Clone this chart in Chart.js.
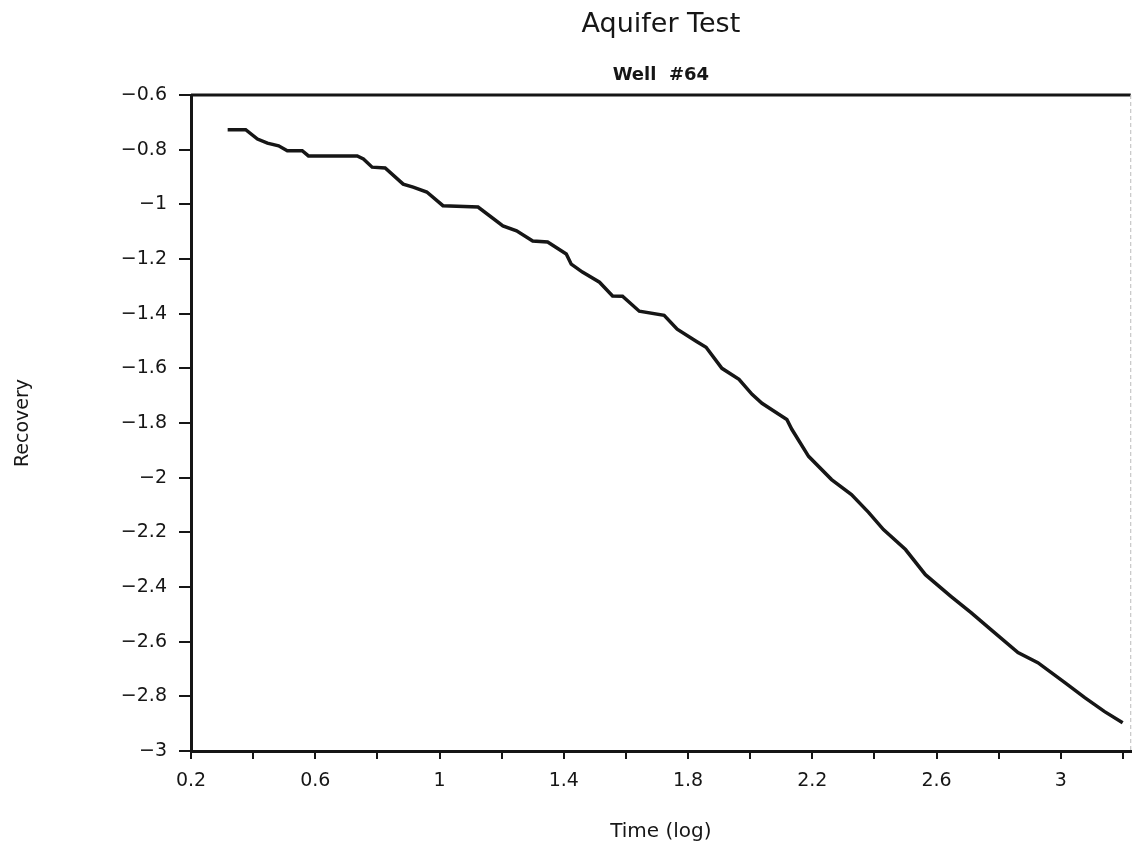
<!DOCTYPE html>
<html>
<head>
<meta charset="utf-8">
<title>Aquifer Test</title>
<script src="https://cdn.jsdelivr.net/npm/chart.js@4/dist/chart.umd.min.js"></script>
<style>
  html, body { margin: 0; padding: 0; background: #fff; }
  #wrap { width: 1134px; height: 848px; position: relative; }
</style>
</head>
<body>
<div id="wrap"><canvas id="aquifer-chart"></canvas></div>
<script>
// Time (log) vs recovery
const timeLog = [0.318, 0.376, 0.414, 0.446, 0.482, 0.510, 0.558, 0.578, 0.735, 0.755,
  0.783, 0.825, 0.883, 0.915, 0.959, 1.011, 1.124, 1.204, 1.248, 1.300,
  1.348, 1.408, 1.424, 1.460, 1.515, 1.557, 1.589, 1.643, 1.723, 1.765,
  1.826, 1.858, 1.909, 1.964, 2.006, 2.038, 2.092, 2.118, 2.134, 2.188,
  2.262, 2.326, 2.381, 2.429, 2.500, 2.564, 2.647, 2.711, 2.775, 2.862,
  2.926, 3.013, 3.077, 3.141, 3.199];
const recovery = [-0.727, -0.727, -0.761, -0.776, -0.786, -0.804, -0.804, -0.823, -0.823, -0.834,
  -0.864, -0.867, -0.926, -0.937, -0.955, -1.005, -1.010, -1.079, -1.097, -1.134,
  -1.138, -1.182, -1.219, -1.248, -1.285, -1.335, -1.336, -1.391, -1.406, -1.457,
  -1.501, -1.523, -1.600, -1.640, -1.695, -1.728, -1.768, -1.787, -1.823, -1.922,
  -2.007, -2.062, -2.127, -2.190, -2.263, -2.355, -2.435, -2.494, -2.556, -2.640,
  -2.677, -2.750, -2.805, -2.856, -2.897];

// axis ranges and tick steps
const xMin = 0.2;
const xMax = 3.225;
const xStep = 0.2;
const yMin = -3;
const yMax = -0.6;
const yStep = 0.2;

const FONT = "'DejaVu Sans', sans-serif";
const INK = '#161616';

const fmt = (v) => String(Math.round(v * 10) / 10).replace('-', '\u2212');

// top and right edges of the plot frame
const frameEdges = {
  id: 'frameEdges',
  afterDraw(chart) {
    const { ctx, chartArea: a } = chart;
    ctx.save();
    ctx.strokeStyle = INK;
    ctx.lineWidth = 3;
    ctx.beginPath();
    ctx.moveTo(a.left, a.top);
    ctx.lineTo(a.right, a.top);
    ctx.stroke();
    ctx.strokeStyle = '#bbbbbb';
    ctx.lineWidth = 1;
    ctx.setLineDash([4, 3]);
    ctx.beginPath();
    ctx.moveTo(a.right, a.top);
    ctx.lineTo(a.right, a.bottom);
    ctx.stroke();
    ctx.restore();
  }
};

const points = timeLog.map((t, i) => ({ x: t, y: recovery[i] }));

new Chart(document.getElementById('aquifer-chart'), {
  type: 'line',
  data: {
    datasets: [{
      label: 'Recovery',
      data: points,
      borderColor: INK,
      borderWidth: 3.5,
      pointRadius: 0,
      tension: 0,
      fill: false
    }]
  },
  options: {
    responsive: true,
    maintainAspectRatio: false,
    animation: false,
    layout: { padding: { top: 4, left: 0, right: -7, bottom: 0 } },
    plugins: {
      legend: { display: false },
      tooltip: { enabled: false },
      title: {
        display: true,
        text: 'Aquifer Test',
        fullSize: false,
        color: INK,
        font: { family: FONT, size: 27, weight: 'normal' },
        padding: { top: 5, bottom: 0 }
      },
      subtitle: {
        display: true,
        text: 'Well  #64',
        fullSize: false,
        color: INK,
        font: { family: FONT, size: 18, weight: 'bold' },
        padding: { top: 23, bottom: 9 }
      }
    },
    scales: {
      x: {
        type: 'linear',
        min: xMin,
        max: xMax,
        afterFit: (scale) => { scale.height = 97; },
        border: { display: true, color: INK, width: 3 },
        grid: { display: true, drawOnChartArea: false, drawTicks: true, tickLength: 8, color: INK, lineWidth: 2 },
        ticks: {
          stepSize: xStep,
          includeBounds: false,
          autoSkip: false,
          maxRotation: 0,
          padding: 11,
          color: INK,
          font: { family: FONT, size: 19 },
          callback: (v, i) => (i % 2 === 0 ? fmt(v) : '')
        },
        title: {
          display: true,
          text: 'Time (log)',
          color: INK,
          font: { family: FONT, size: 20 },
          padding: { top: 0, bottom: 4 }
        }
      },
      y: {
        type: 'linear',
        min: yMin,
        max: yMax,
        afterFit: (scale) => { scale.width = 191; },
        border: { display: true, color: INK, width: 3 },
        grid: { display: true, drawOnChartArea: false, drawTicks: true, tickLength: 12, color: INK, lineWidth: 2 },
        ticks: {
          stepSize: yStep,
          autoSkip: false,
          padding: 12,
          color: INK,
          font: { family: FONT, size: 19 },
          callback: (v) => fmt(v)
        },
        title: {
          display: true,
          text: 'Recovery',
          color: INK,
          font: { family: FONT, size: 19 },
          padding: { top: 12, bottom: 0 }
        }
      }
    }
  },
  plugins: [frameEdges]
});
</script>
</body>
</html>
